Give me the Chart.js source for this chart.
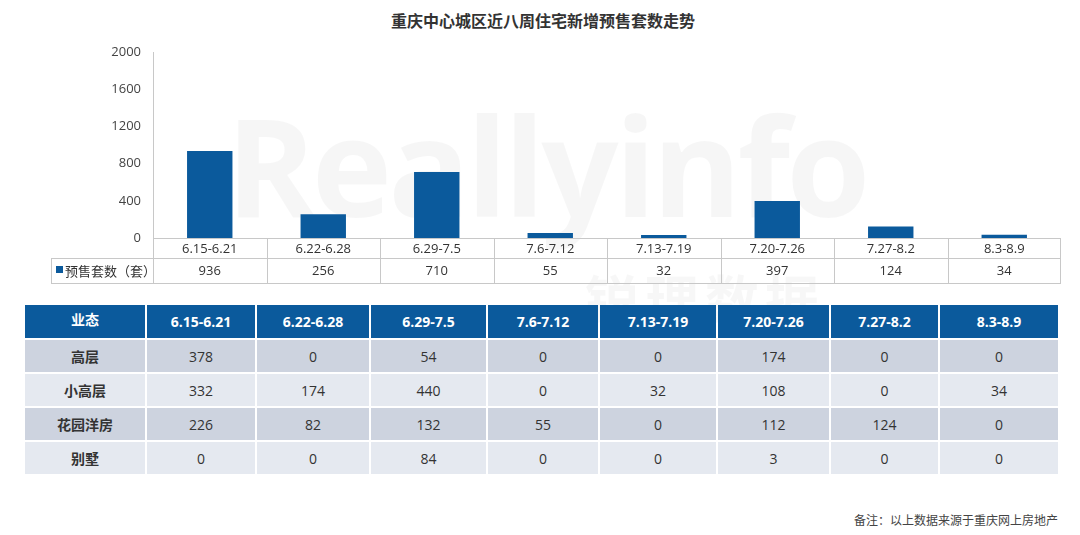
<!DOCTYPE html>
<html>
<head>
<meta charset="utf-8">
<script src="https://cdn.jsdelivr.net/npm/chart.js@4"></script>
<style>
  html, body { margin: 0; padding: 0; background: #fff; }
  body { width: 1080px; height: 535px; position: relative; overflow: hidden;
         font-family: "Open Sans", "Noto Sans CJK SC", sans-serif; color: #333; }
  #title { position: absolute; left: 0; width: 1086px; top: 8px; text-align: center;
           font: bold 16px "Noto Sans CJK SC", sans-serif; color: #333; }
  #wm { position: absolute; left: 226px; top: 72px; font: bold 136px "Open Sans", sans-serif;
        color: rgba(0,0,0,0.035); letter-spacing: -4px; white-space: nowrap; }
  #wm2 { position: absolute; left: 585px; top: 258px; font: bold 54px "Noto Sans CJK SC", sans-serif;
         color: rgba(0,0,0,0.03); letter-spacing: 6px; white-space: nowrap; }
  #wrap { position: absolute; left: 0; top: 0; width: 1080px; height: 290px; }
  #tbl { position: absolute; left: 25px; top: 305px; border-collapse: separate; border-spacing: 2px 2px;
         margin: -2px; font-size: 14px; }
  #tbl td { text-align: center; padding: 0; height: 32px; color: #333; }
  #tbl tr.h td { background: #0B5A9C; color: #fff; font-weight: bold; height: 33px; font-size: 14px; }
  #tbl tr.h td:first-child { vertical-align: top; padding-top: 4px; height: 29px;
                             font-family: "Noto Sans CJK SC", sans-serif; }
  #tbl tr.o td { background: #CDD3DF; }
  #tbl tr.e td { background: #E5E9F0; }
  #tbl td.lab { font-weight: bold; font-family: "Noto Sans CJK SC", sans-serif; }
  #note { position: absolute; right: 22px; top: 511px; font: 12px "Noto Sans CJK SC", sans-serif; color: #444; }
</style>
</head>
<body>
<div id="wm">Reallyinfo</div>
<div id="wm2">锐理数据</div>
<div id="title">重庆中心城区近八周住宅新增预售套数走势</div>
<div id="wrap"><canvas id="myChart"></canvas></div>
<table id="tbl"></table>
<div id="note">备注：以上数据来源于重庆网上房地产</div>
<script>
const weeks = ['6.15-6.21', '6.22-6.28', '6.29-7.5', '7.6-7.12', '7.13-7.19', '7.20-7.26', '7.27-8.2', '8.3-8.9'];
const presale = [936, 256, 710, 55, 32, 397, 124, 34];
const seriesName = '预售套数（套）';
const yTicks = [0, 400, 800, 1200, 1600, 2000];

const typeNames = ['高层', '小高层', '花园洋房', '别墅'];
const highRise = [378, 0, 54, 0, 0, 174, 0, 0];
const midRise = [332, 174, 440, 0, 32, 108, 0, 34];
const garden = [226, 82, 132, 55, 0, 112, 124, 0];
const villa = [0, 0, 84, 0, 0, 3, 0, 0];
const colWidths = [120, 108, 112, 115, 110, 116, 111, 107, 118];

const blue = '#0B5A9C';
const lineColor = '#c8c8c8';

// data table drawn under the plot area, aligned with the x scale
const dataTable = {
  id: 'dataTable',
  afterDraw(chart) {
    const ctx = chart.ctx, x = chart.scales.x, a = chart.chartArea;
    const r0 = a.bottom, r1 = a.bottom + 20, r2 = a.bottom + 45, left = 51;
    const step = x.getPixelForValue(1) - x.getPixelForValue(0);
    ctx.save();
    ctx.strokeStyle = lineColor;
    ctx.lineWidth = 1;
    ctx.beginPath();
    ctx.moveTo(a.left, r0 + 0.5); ctx.lineTo(a.right, r0 + 0.5);
    ctx.moveTo(left, r1 + 0.5); ctx.lineTo(a.right, r1 + 0.5);
    ctx.moveTo(left, r2 + 0.5); ctx.lineTo(a.right, r2 + 0.5);
    ctx.moveTo(left + 0.5, r1); ctx.lineTo(left + 0.5, r2);
    weeks.forEach((w, i) => {
      const bx = Math.round(x.getPixelForValue(i) - step / 2) + 0.5;
      ctx.moveTo(bx, r0); ctx.lineTo(bx, r2);
    });
    ctx.moveTo(a.right - 0.5, r0); ctx.lineTo(a.right - 0.5, r2);
    ctx.stroke();

    ctx.fillStyle = '#333';
    ctx.font = '13px "Open Sans", "Noto Sans CJK SC", sans-serif';
    ctx.textAlign = 'center';
    ctx.textBaseline = 'middle';
    weeks.forEach((w, i) => {
      const cx = x.getPixelForValue(i);
      ctx.fillText(w, cx, (r0 + r1) / 2 + 1);
      ctx.fillText(String(presale[i]), cx, (r1 + r2) / 2 + 1);
    });
    ctx.fillStyle = blue;
    ctx.fillRect(left + 5, r1 + 8, 7, 7);
    ctx.fillStyle = '#333';
    ctx.textAlign = 'left';
    ctx.font = '13px "Noto Sans CJK SC", sans-serif';
    ctx.fillText(seriesName, left + 14, (r1 + r2) / 2 + 1);
    ctx.restore();
  }
};

function init() {
  const ctx = document.getElementById('myChart').getContext('2d');
  new Chart(ctx, {
    type: 'bar',
    data: {
      labels: weeks,
      datasets: [{
        label: seriesName,
        data: presale,
        backgroundColor: blue,
        barPercentage: 0.8,
        categoryPercentage: 0.5
      }]
    },
    options: {
      animation: false,
      responsive: true,
      maintainAspectRatio: false,
      layout: { padding: { left: 0, right: 19, top: 52, bottom: 52 } },
      plugins: { legend: { display: false }, tooltip: { enabled: false } },
      scales: {
        x: { display: false },
        y: {
          min: 0, max: 2000,
          afterBuildTicks: (s) => { s.ticks = yTicks.map(v => ({ value: v })); },
          afterFit: (s) => { s.width = 153; },
          grid: { display: false, drawTicks: false },
          border: { display: true, color: lineColor },
          ticks: {
            padding: 12, color: '#444',
            font: { size: 13, family: '"Open Sans", sans-serif' },
            callback: (v) => String(v)
          }
        }
      }
    },
    plugins: [dataTable]
  });

  // bottom breakdown table
  const tbl = document.getElementById('tbl');
  const rows = [highRise, midRise, garden, villa];
  let html = '<tr class="h"><td style="width:' + colWidths[0] + 'px">业态</td>' +
    weeks.map((w, i) => '<td style="width:' + colWidths[i + 1] + 'px">' + w + '</td>').join('') + '</tr>';
  rows.forEach((r, k) => {
    html += '<tr class="' + (k % 2 ? 'e' : 'o') + '"><td class="lab">' + typeNames[k] + '</td>' +
      r.map(v => '<td>' + v + '</td>').join('') + '</tr>';
  });
  tbl.innerHTML = html;
}

init();
</script>
</body>
</html>
